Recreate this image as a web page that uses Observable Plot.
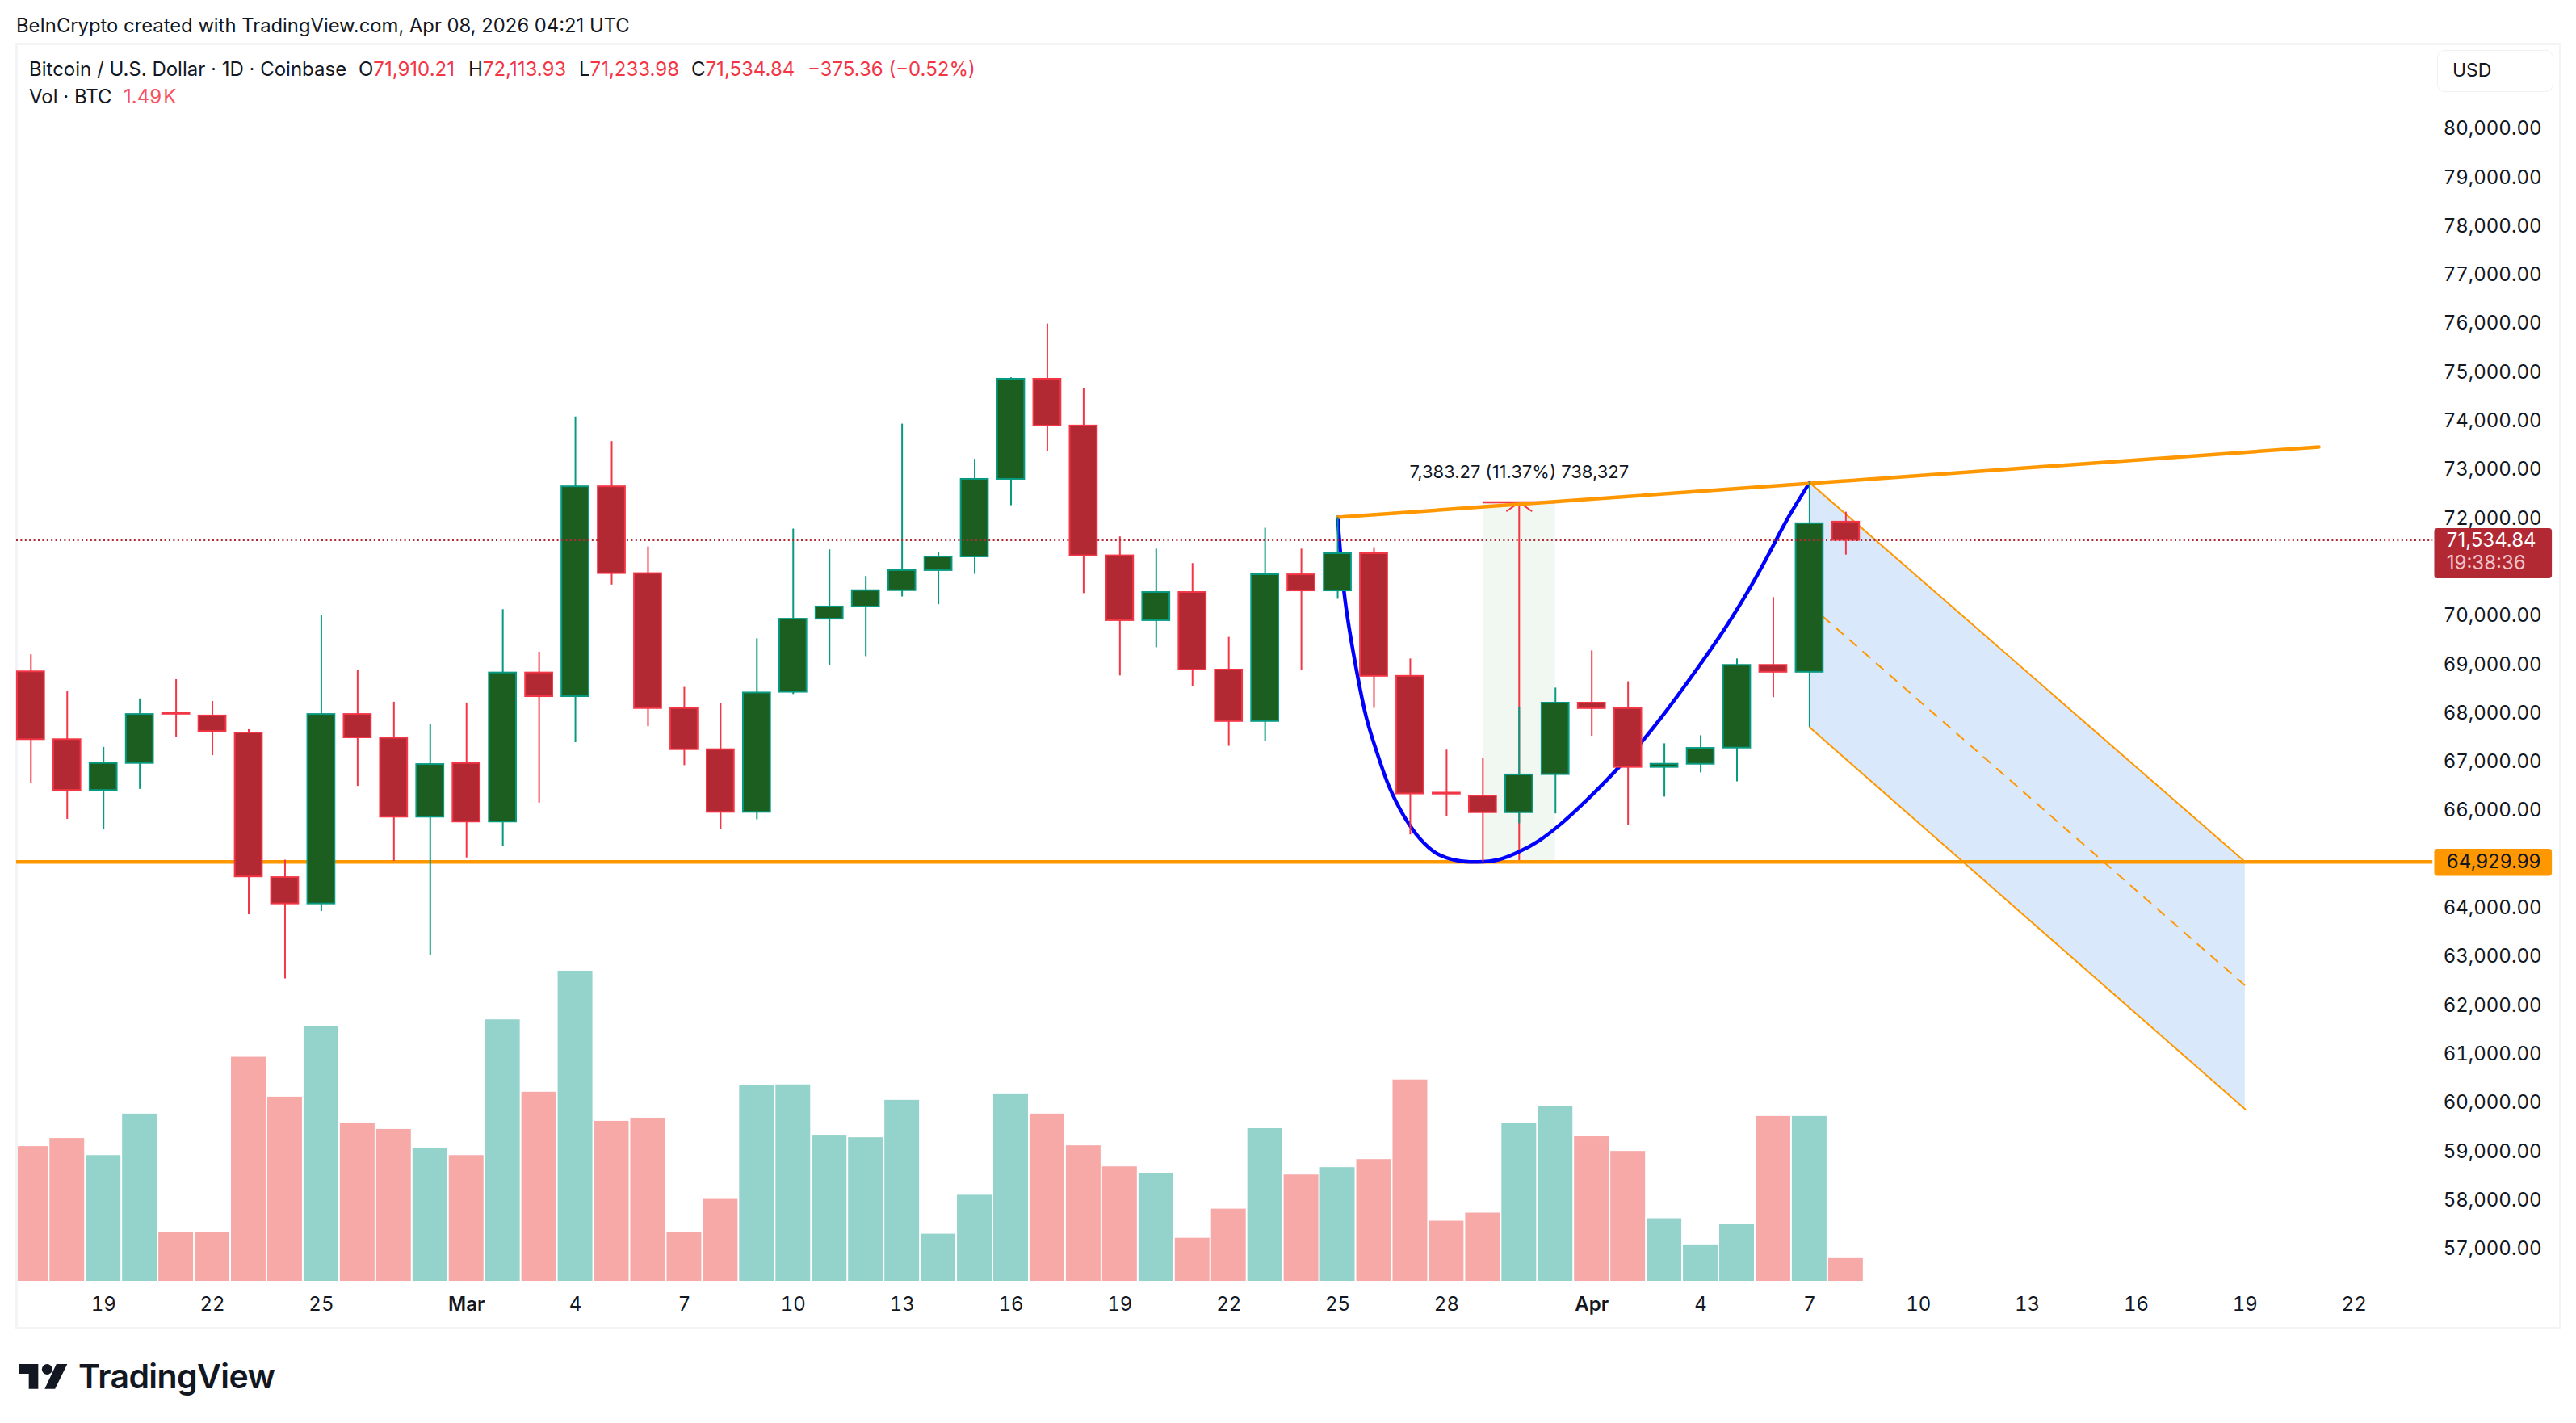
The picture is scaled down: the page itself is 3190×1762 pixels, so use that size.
<!DOCTYPE html>
<html><head><meta charset="utf-8">
<script src="https://cdn.jsdelivr.net/npm/d3@7"></script>
<script src="https://cdn.jsdelivr.net/npm/@observablehq/plot@0.6"></script>
<style>
html,body{margin:0;padding:0;background:#fff;width:3190px;height:1762px;overflow:hidden}
body{position:relative;font-family:Inter,"Liberation Sans",sans-serif;color:#131722}
.abs{position:absolute;white-space:pre;line-height:1}
.r{color:#f23645}
#main,#vol{position:absolute;left:0;top:0}
#main svg,#vol svg{display:block}
</style></head><body>
<div id="vol"></div><div id="main"></div>
<div class="abs" style="left:20px;top:20px;font-size:23.8px">BeInCrypto created with TradingView.com, Apr 08, 2026 04:21 UTC</div>
<div class="abs" style="left:36px;top:74px;font-size:24px">Bitcoin / U.S. Dollar · 1D · Coinbase</div>
<div class="abs" style="left:444px;top:74px;font-size:24px">O<span class="r">71,910.21</span></div>
<div class="abs" style="left:580px;top:74px;font-size:24px">H<span class="r">72,113.93</span></div>
<div class="abs" style="left:717px;top:74px;font-size:24px">L<span class="r">71,233.98</span></div>
<div class="abs" style="left:856px;top:74px;font-size:24px">C<span class="r">71,534.84</span></div>
<div class="abs r" style="left:1000px;top:74px;font-size:24px">−375.36 (−0.52%)</div>
<div class="abs" style="left:36px;top:108px;font-size:24px">Vol · BTC</div>
<div class="abs" style="left:153px;top:108px;font-size:24px;color:#f7525f">1.49&#8202;K</div>
<div class="abs" style="left:3018px;top:62px;width:144px;height:52px;border:1.5px solid #f0f1f3;border-radius:10px;box-sizing:border-box"></div>
<div class="abs" style="left:3037px;top:76px;font-size:23px">USD</div>
<svg class="abs" style="left:24px;top:1689px" width="60" height="31" viewBox="0 0 36 18.6"><path fill="#131722" d="M14 18.4H7V7.2H0V0h14v18.4zM26.5 18.4h-7.7L27.5 0h8.1L26.5 18.4z"/><circle fill="#131722" cx="20.6" cy="3.9" r="3.9"/></svg>
<div class="abs" style="left:97px;top:1684px;font-size:41px;font-weight:600;letter-spacing:-0.6px">TradingView</div>
<script>
// Candles: Feb 17 2026 onward, one entry per day
const opens  = [68836,67443,66400,66955,67990,67930,67580,64610,64070,67960,67473,65851,66955,65752,68813,68326,72635,70854,68082,67237,65950,68417,69917,70168,70503,70915,71196,72788,74844,73884,71219,69887,70465,68874,67816,70829,70498,71262,68744,66345,66286,65943,66725,68194,68081,66873,66938,67270,68969,68827,71910.21];
const closes = [67443,66400,66955,67960,67965,67610,64625,64070,67960,67481,65851,66932,65752,68813,68326,72635,70854,68082,67237,65950,68402,69917,70168,70503,70915,71196,72788,74844,73884,71219,69887,70465,68874,67816,70831,70498,71262,68744,66328,66325,65943,66719,68194,68081,66873,66938,67264,68969,68827,71878,71534.84];
const highs  = [69186,68425,67283,68280,68676,68227,67648,64968,70001,68859,68212,67747,68196,70115,69240,74067,73564,71402,68516,68189,69514,71767,71341,70793,73922,71288,73199,74874,75978,74653,71607,71356,71059,69544,71783,71356,72008,71386,69100,67228,67062,68099,68502,69266,68632,67358,67524,69100,70361,72719,72113.93];
const lows   = [66552,65806,65592,66422,67496,67115,63849,62530,63917,66483,64945,63019,65014,65242,66141,67382,70618,67709,66910,65600,65798,68371,68965,69148,70374,70214,70838,72247,73359,70443,68752,69331,68539,67306,67412,68869,70326,68087,65487,65866,64929.99,65718,65919,67512,65682,66263,66760,66577,68306,67696,71233.98];
const volumes= [8.83,9.36,8.24,10.96,3.19,3.19,14.68,12.07,16.70,10.32,9.95,8.72,8.24,17.13,12.39,20.32,10.48,10.69,3.19,5.37,12.82,12.87,9.52,9.41,11.86,3.09,5.64,12.23,10.96,8.88,7.50,7.07,2.82,4.73,10.0,6.97,7.45,7.98,13.19,3.94,4.47,10.37,11.44,9.47,8.51,4.10,2.39,3.72,10.80,10.80,1.49];
// Price scale ticks (71,000 and 65,000 are hidden behind the price labels)
const priceTicks = [57000,58000,59000,60000,61000,62000,63000,64000,66000,67000,68000,69000,70000,72000,73000,74000,75000,76000,77000,78000,79000,80000];
// Date axis
const dayTicks = [[1,19],[1,22],[1,25],[2,4],[2,7],[2,10],[2,13],[2,16],[2,19],[2,22],[2,25],[2,28],[3,4],[3,7],[3,10],[3,13],[3,16],[3,19],[3,22]];
const monthTicks = [[2,1,"Mar"],[3,1,"Apr"]];
// Drawings (day offset from the first candle, price)
const cupDays  = [36,36.2,36.51,36.79,37.08,37.42,37.82,38.27,38.72,39.29,39.86,40.43,40.99,41.56,42.13,42.7,43.38,43.83,44.4,44.97,45.53,46.1,46.67,47.24,47.8,48.37,49];
const cupPrice = [72008,70320,68898,67892,67181,66470,65878,65404,65108,64960,64930,64977,65137,65374,65700,66085,66588,66944,67418,67951,68513,69106,69728,70409,71149,71949,72719];
const trendDays = [36,63.03], trendPrice = [72008,73451];
const supportPrice = 64929.99, lastPrice = 71534.84;
const channelDays = [49,61];
const channelTop = [72719,64930], channelMid = [70207,62390], channelBot = [67696,59851];
const rangeDays = [40,42], rangeMid = 41, rangeTop = 72313.26;

const DAY = 86400000, T0 = Date.UTC(2026,1,17);
const at = i => new Date(T0 + i*DAY);
const candles = opens.map((o,i)=>({i,date:at(i),o,c:closes[i],h:highs[i],l:lows[i],v:volumes[i],up:closes[i]>=o,top:Math.max(o,closes[i]),bot:Math.min(o,closes[i])}));
const ups = candles.filter(d=>d.up), downs = candles.filter(d=>!d.up);
const UPL="#089981", DNL="#f23645", UPF="#1b5e20", DNF="#b22833", OR="#ff9800";
const font = 'Inter,"Liberation Sans",sans-serif';
const xScale = {type:"utc",domain:[at(-0.396),at(69.68)],axis:null};
const common = {width:3190,height:1762,marginLeft:20,marginRight:20,marginTop:54,marginBottom:118,x:xScale,style:{background:"transparent",fontFamily:font}};
const hw = 0.375, vw = 0.478;
const wicks = (data,stroke)=>Plot.ruleX(data,{x:"date",y1:"l",y2:"h",stroke,strokeWidth:2});
const bodies = (data,fill,stroke)=>Plot.rect(data,{x1:d=>at(d.i-hw),x2:d=>at(d.i+hw),y1:"bot",y2:"top",fill,stroke,strokeWidth:2});
const pair = (xs,ys)=>xs.map((x,i)=>({x:at(x),y:ys[i]}));

document.getElementById("vol").append(Plot.plot({...common,
  y:{domain:[0,25],range:[1586,1586-25*18.9],axis:null},
  marks:[
    Plot.rect(ups,{x1:d=>at(d.i-vw),x2:d=>at(d.i+vw),y1:0,y2:"v",fill:"#94d2cc",clip:"frame"}),
    Plot.rect(downs,{x1:d=>at(d.i-vw),x2:d=>at(d.i+vw),y1:0,y2:"v",fill:"#f7a9a8",clip:"frame"})
  ]}));

document.getElementById("main").append(Plot.plot({...common,
  y:{domain:[55358,81726],axis:null},
  marks:[
    Plot.frame({stroke:"#f3f4f6",strokeWidth:3}),
    // range measurement box
    Plot.rect([1],{x1:at(rangeDays[0]),x2:at(rangeDays[1]),y1:supportPrice,y2:rangeTop,fill:"#f1f8f2"}),
    // channel
    Plot.area(channelDays.map((d,i)=>({x:at(d),a:channelTop[i],b:channelBot[i]})),{x1:"x",y1:"a",y2:"b",fill:"#dae8fb"}),
    Plot.line(pair(channelDays,channelTop),{x:"x",y:"y",stroke:OR,strokeWidth:2}),
    Plot.line(pair(channelDays,channelBot),{x:"x",y:"y",stroke:OR,strokeWidth:2}),
    Plot.line(pair(channelDays,channelMid),{x:"x",y:"y",stroke:OR,strokeWidth:2,strokeDasharray:"11 11"}),
    // range arrow
    Plot.ruleY([rangeTop],{x1:at(rangeDays[0]),x2:at(rangeDays[1]),stroke:DNL,strokeWidth:2.5}),
    Plot.arrow([1],{x1:at(rangeMid),x2:at(rangeMid),y1:supportPrice,y2:rangeTop,stroke:DNL,strokeWidth:2,bend:0,headLength:14,headAngle:110,insetStart:0,insetEnd:0}),
    Plot.text(["7,383.27 (11.37%) 738,327"],{x:at(rangeMid),y:72937,fontSize:22,fill:"#131722"}),
    // support and trend lines, cup
    Plot.ruleY([supportPrice],{x1:at(-0.396),x2:at(66.17),stroke:OR,strokeWidth:4.5}),
    Plot.line(cupDays.map((d,i)=>({x:at(d),y:cupPrice[i]})),{x:"x",y:"y",stroke:"#0000ff",strokeWidth:4.5,curve:"catmull-rom"}),
    Plot.line(pair(trendDays,trendPrice),{x:"x",y:"y",stroke:OR,strokeWidth:4.5,strokeLinecap:"round"}),
    // candles
    wicks(ups,UPL), wicks(downs,DNL), bodies(ups,UPF,UPL), bodies(downs,DNF,DNL),
    // last price line
    Plot.ruleY([lastPrice],{x1:at(-0.396),x2:at(66.17),stroke:DNF,strokeWidth:2,strokeDasharray:"2 3.4"}),
    // axes
    Plot.axisY(priceTicks,{anchor:"right",tickSize:0,tickPadding:0,dx:-23,dy:1,textAnchor:"end",fontSize:24,fill:"#131722",tickFormat:d3.format(",.2f")}),
    Plot.axisX(dayTicks.map(([m,d])=>new Date(Date.UTC(2026,m,d))),{anchor:"bottom",tickSize:0,tickPadding:0,dy:-39,fontSize:24,fill:"#131722",tickFormat:d=>String(d.getUTCDate())}),
    Plot.axisX(monthTicks.map(([m,d])=>new Date(Date.UTC(2026,m,d))),{anchor:"bottom",tickSize:0,tickPadding:0,dy:-39,fontSize:24,fontWeight:600,fill:"#131722",tickFormat:d=>d.getUTCMonth()===2?"Mar":"Apr"}),
    // price labels
    Plot.rect([1],{x1:at(66.22),x2:at(69.46),y1:70748,y2:71776,fill:DNF,rx:4}),
    Plot.text([d3.format(",.2f")(lastPrice)],{x:at(66.55),y:71530,textAnchor:"start",fontSize:24,fill:"#fff"}),
    Plot.text(["19:38:36"],{x:at(66.55),y:71060,textAnchor:"start",fontSize:24,fill:"#f0c4c8"}),
    Plot.rect([1],{x1:at(66.22),x2:at(69.46),y1:64637,y2:65192,fill:OR,rx:4}),
    Plot.text([d3.format(",.2f")(supportPrice)],{x:at(66.55),y:supportPrice,textAnchor:"start",fontSize:24,fill:"#131722"})
  ]}));
</script>
</body></html>
